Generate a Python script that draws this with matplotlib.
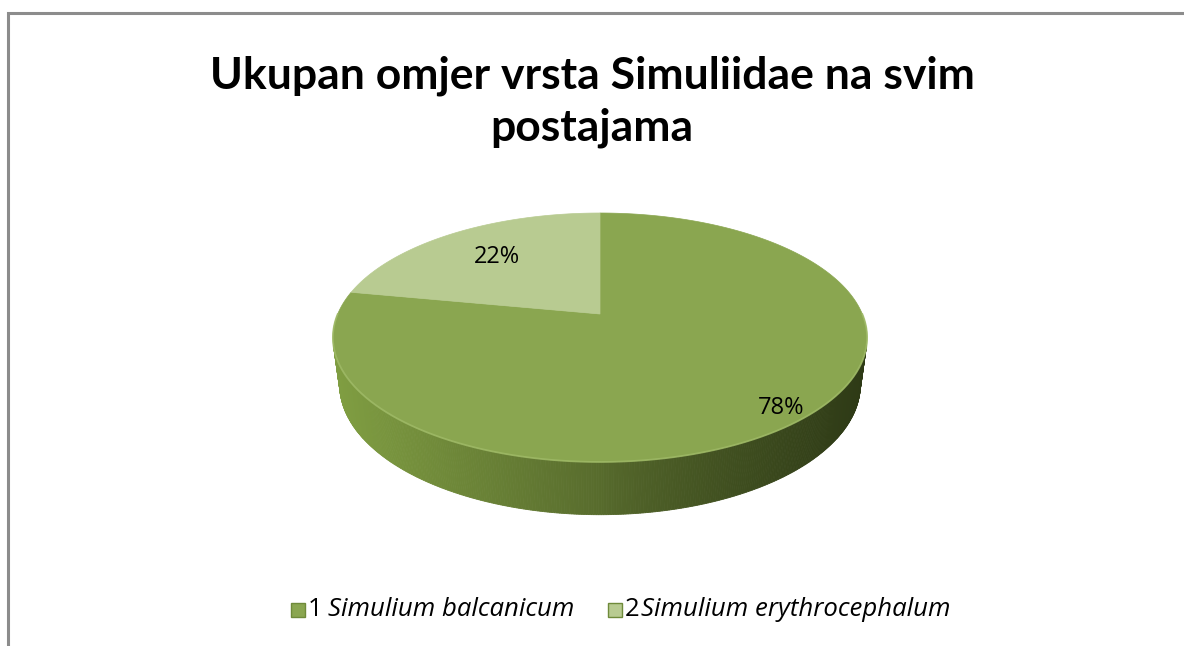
import matplotlib
matplotlib.use('Agg')
import matplotlib.pyplot as plt
import matplotlib.patches as mpatches
import numpy as np

# data
species = ['Simulium balcanicum', 'Simulium erythrocephalum']
numbers = ['1', '2']
shares = [78, 22]
top_colors = ['#8aa650', '#b8cb91']
title = 'Ukupan omjer vrsta Simuliidae na svim\npostajama'

plt.rcParams['font.family'] = ['Open Sans', 'DejaVu Sans']

W, H = 1184, 646
fig = plt.figure(figsize=(W / 100, H / 100), dpi=100)
ax = fig.add_axes([0, 0, 1, 1])
ax.set_xlim(0, W)
ax.set_ylim(H, 0)
ax.axis('off')

# chart border (only top/left visible)
ax.plot([7.5, 7.5, W + 5], [H + 5, 12.5, 12.5], color='#8c8c8c', lw=2.2,
        solid_joinstyle='miter', clip_on=False)

ax.text(W / 2, 102, title, ha='center', va='center', fontsize=32,
        fontweight='bold', linespacing=1.35, family=['Lato', 'DejaVu Sans'])

# 3d pie with perspective: unit disc in the ground plane, camera above/front
cx, cy = 600, 314          # screen position of the disc centre
sx, sy = 1204, 1102        # screen scale
elev = np.radians(30)
dist = 4.59
height = 0.23


def proj(X, Y, Z):
    yc = Y * np.cos(elev) + Z * np.sin(elev)
    zc = -Y * np.sin(elev) + Z * np.cos(elev) + dist
    return cx + sx * X / zc, cy - sy * yc / zc


# side wall: only the part facing the camera, with a left->right shading
c_left = np.array([0x80, 0x9e, 0x42]) / 255
c_mid = np.array([0x58, 0x6c, 0x2d]) / 255
c_right = np.array([0x2e, 0x3a, 0x16]) / 255
lim = -1 / (dist * np.cos(elev))
phis = np.linspace(np.pi, 2 * np.pi, 400)
for p0, p1 in zip(phis[:-1], phis[1:]):
    if np.sin((p0 + p1) / 2) > lim:
        continue
    xa, ya = proj(np.cos(p0), 0, np.sin(p0))
    xb, yb = proj(np.cos(p1), 0, np.sin(p1))
    xc, yc = proj(np.cos(p1), -height, np.sin(p1))
    xd, yd = proj(np.cos(p0), -height, np.sin(p0))
    f = ((xa + xb) / 2 - 333) / 534
    f = min(max(f, 0), 1)
    if f < 0.5:
        col = c_left + (c_mid - c_left) * (f / 0.5)
    else:
        col = c_mid + (c_right - c_mid) * ((f - 0.5) / 0.5) ** 0.8
    ax.add_patch(mpatches.Polygon([(xa, ya), (xb, yb), (xc, yc), (xd, yd)],
                                  closed=True, facecolor=col, edgecolor=col,
                                  lw=0.6))

# top faces: start at the back (12 o'clock), second series counter-clockwise
total = sum(shares)
a0 = np.pi / 2
a1 = a0 + 2 * np.pi * shares[1] / total
slices = [(np.linspace(a1, a0 + 2 * np.pi, 400), top_colors[0]),
          (np.linspace(a0, a1, 120), top_colors[1])]
x0, y0 = proj(0, 0, 0)
for ph, col in slices:
    xs, ys = proj(np.cos(ph), 0, np.sin(ph))
    pts = [(x0, y0)] + list(zip(xs, ys))
    ax.add_patch(mpatches.Polygon(pts, closed=True, facecolor=col,
                                  edgecolor=col, lw=0.5))

# light rim along the front edge of the top face
ph = np.linspace(np.pi, 2 * np.pi, 300)
xs, ys = proj(np.cos(ph), 0, np.sin(ph))
ax.plot(xs, ys, color='#a0bb68', lw=1.3, alpha=0.8)

# percentage labels
ax.text(781, 408, f'{shares[0]}%', ha='center', va='center', fontsize=17)
ax.text(497, 257, f'{shares[1]}%', ha='center', va='center', fontsize=17)

# legend
leg_y = 610
leg_x = [298, 615]
name_dx = [30, 26]
for i in range(len(species)):
    x = leg_x[i]
    ax.add_patch(mpatches.Rectangle((x - 7, leg_y - 7), 14, 14,
                                    facecolor=top_colors[i],
                                    edgecolor='#6f8a3a', lw=1))
    ax.text(x + 10, leg_y, numbers[i], ha='left', va='center', fontsize=18.5)
    ax.text(x + name_dx[i], leg_y, species[i], ha='left',
            va='center', fontsize=18.5, fontstyle='italic')

fig.savefig('out.png', dpi=100)
